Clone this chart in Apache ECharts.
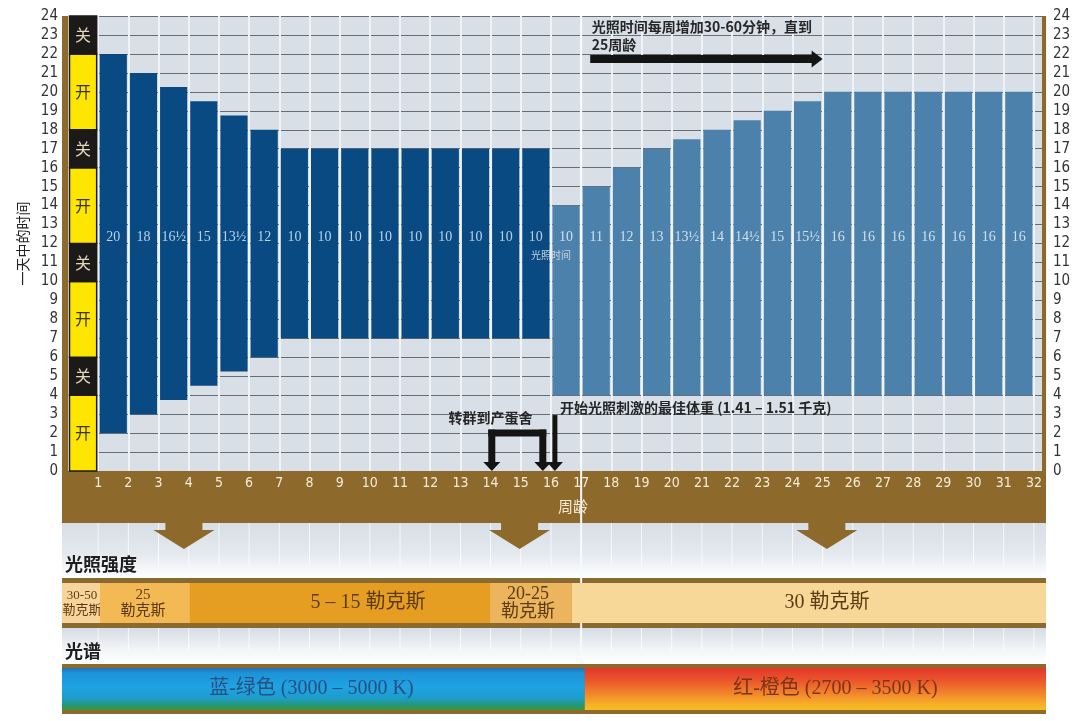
<!DOCTYPE html>
<html><head><meta charset="utf-8">
<script src="https://cdn.jsdelivr.net/npm/echarts@6/dist/echarts.min.js"></script>
<style>html,body{margin:0;padding:0;background:#fff}#c{width:1080px;height:721px}</style>
</head><body><div id="c"></div><script>
// ---------- data ----------
const weeks = [1,2,3,4,5,6,7,8,9,10,11,12,13,14,15,16,17,18,19,20,21,22,23,24,25,26,27,28,29,30,31,32];
const lightOn  = [2,3,3.75,4.5,5.25,6,7,7,7,7,7,7,7,7,7,4,4,4,4,4,4,4,4,4,4,4,4,4,4,4,4];
const lightOff = [22,21,20.25,19.5,18.75,18,17,17,17,17,17,17,17,17,17,14,15,16,17,17.5,18,18.5,19,19.5,20,20,20,20,20,20,20];
const hourLabels = ['20','18','16½','15','13½','12','10','10','10','10','10','10','10','10','10','10','11','12','13','13½','14','14½','15','15½','16','16','16','16','16','16','16'];
const stimulated = [0,0,0,0,0,0,0,0,0,0,0,0,0,0,0,1,1,1,1,1,1,1,1,1,1,1,1,1,1,1,1];
const switchFrom  = [0,4,6,10,12,16,18,22];
const switchTo    = [4,6,10,12,16,18,22,24];
const switchState = ['开','关','开','关','开','关','开','关'];
const intensityFrom = [-0.2,1.06,4.04,13.98,16.69];
const intensityTo   = [1.06,4.04,13.98,16.69,32.4];
const intensityText = ['30-50\n勒克斯','25\n勒克斯','5 – 15 勒克斯','20-25\n勒克斯','30 勒克斯'];
const spectrumFrom = [-0.2,17.12];
const spectrumTo   = [17.12,32.4];
const spectrumText = ['蓝-绿色 (3000 – 5000 K)','红-橙色 (2700 – 3500 K)'];
const bandArrowWeeks = [3.84,14.96,25.14];

// ---------- style / layout ----------
const NARROW = "'Liberation Sans Narrow','DejaVu Sans Condensed',sans-serif";
const CJK = "'Noto Sans CJK SC',sans-serif";
const SERIF = "'Liberation Serif','Noto Sans CJK SC',serif";
const BROWN = '#8d6a2b';
const L = {
  gridLeft: 68, gridRight: 34, gridTop: 16, gridBottom: 250,
  left: 62, width: 984,
  band: {top: 471, h: 52},
  arrow: {top: 523, shaftW: 37, shaftH: 7, headW: 61, tipY: 549},
  zone1: {top: 523, h: 55},
  inten: {outerTop: 578, outerH: 50, top: 583, h: 40,
          colors: ['#f8d49a','#f2b955','#e69e22','#ecb45c','#f8d898'],
          fontSize: [13,15,20,18,20], lineHeight: [15,16,18,18,20], shift: [1,-2,28,-3,18]},
  zone2: {top: 628, h: 36},
  spec: {outerTop: 664, outerH: 50, top: 668, h: 42, shift: [-12,20]},
  colFrom: 0.05, colTo: 0.95, barPad: 0.05, labelHour: 12.35
};

function grad(stops){ return new echarts.graphic.LinearGradient(0,0,0,1,stops.map(c=>({offset:c[0],color:c[1]}))); }

function renderBars(params, api){
  const i = params.dataIndex;
  const w = api.value(0), lo = api.value(1), hi = api.value(2), ph = api.value(3);
  const p1 = api.coord([w + L.barPad, hi]);
  const p2 = api.coord([w + 1 - L.barPad, lo]);
  const t = api.coord([w + 0.5, L.labelHour]);
  return {type:'group', children:[
    {type:'rect', shape:{x:p1[0], y:p1[1], width:p2[0]-p1[0], height:p2[1]-p1[1]},
     style:{fill: ph ? '#4c81ab' : '#0a4a83'}},
    {type:'text', x:t[0], y:t[1], style:{text: hourLabels[i], fill: ph ? '#cfe0ee' : '#b9d2e8',
      fontSize: 14, fontFamily: SERIF, align:'center', verticalAlign:'middle'}}
  ]};
}

function renderSwitch(params, api){
  const i = params.dataIndex;
  const a = api.coord([L.colFrom, api.value(1)]);
  const b = api.coord([L.colTo, api.value(0)]);
  const on = switchState[i] === '开';
  return {type:'group', children:[
    {type:'rect', shape:{x:a[0], y:a[1], width:b[0]-a[0], height:b[1]-a[1]},
     style:{fill: on ? '#ffe600' : '#1c1a18', stroke:'#1c1a18', lineWidth:1.5}},
    {type:'text', x:(a[0]+b[0])/2, y:(a[1]+b[1])/2, style:{text: switchState[i], fill: on ? '#3a3320' : '#e4d8bc',
      fontSize: 16, fontFamily: CJK, align:'center', verticalAlign:'middle'}}
  ]};
}

function renderIntensity(params, api){
  const i = params.dataIndex;
  const x1 = api.coord([api.value(0), 0])[0], x2 = api.coord([api.value(1), 0])[0];
  const I = L.inten;
  return {type:'group', children:[
    {type:'rect', shape:{x:x1, y:I.top, width:x2-x1, height:I.h}, style:{fill: I.colors[i]}},
    {type:'text', x:(x1+x2)/2 + I.shift[i], y:I.top + I.h/2, style:{text: intensityText[i], fill:'#5b3b12',
      fontSize: I.fontSize[i], lineHeight: I.lineHeight[i], fontFamily: SERIF, align:'center', verticalAlign:'middle'}}
  ]};
}

const specFills = [
  [[0,'#2470b6'],[0.12,'#1d93d8'],[0.45,'#1ea3e4'],[0.72,'#1d9dcc'],[0.9,'#27966a'],[1,'#3c9640']],
  [[0,'#e2372b'],[0.3,'#eb562c'],[0.6,'#f2842b'],[0.85,'#f6ad28'],[1,'#f6c021']]
];
const specText = ['#2b4f7e','#7a3418'];
function renderSpectrum(params, api){
  const i = params.dataIndex;
  const x1 = api.coord([api.value(0), 0])[0], x2 = api.coord([api.value(1), 0])[0];
  const S = L.spec;
  return {type:'group', children:[
    {type:'rect', shape:{x:x1, y:S.top, width:x2-x1, height:S.h}, style:{fill: grad(specFills[i])}},
    {type:'text', x:(x1+x2)/2 + S.shift[i], y:S.top + S.h/2, style:{text: spectrumText[i], fill: specText[i],
      fontSize: 20, fontFamily: SERIF, align:'center', verticalAlign:'middle'}}
  ]};
}

function renderBandArrow(params, api){
  const x = api.coord([api.value(0), 0])[0];
  const A = L.arrow;
  const y0 = A.top - 1, y1 = A.top + A.shaftH;
  return {type:'polygon', shape:{points:[
    [x - A.shaftW/2, y0],[x + A.shaftW/2, y0],[x + A.shaftW/2, y1],[x + A.headW/2, y1],
    [x, A.tipY],[x - A.headW/2, y1],[x - A.shaftW/2, y1]]}, style:{fill: BROWN}};
}

function renderZoneLines(params, api){
  const x = api.coord([api.value(0), 0])[0];
  return {type:'group', children:[
    {type:'rect', shape:{x:x-0.5, y:L.zone1.top, width:1, height:L.zone1.h-12}, style:{fill:'rgba(255,255,255,0.75)'}},
    {type:'rect', shape:{x:x-0.5, y:L.zone2.top, width:1, height:L.zone2.h-14}, style:{fill:'rgba(255,255,255,0.75)'}}
  ]};
}

function renderNotes(params, api){
  const c = (w,h) => api.coord([w,h]);
  const ch = [];
  const ink = '#141414';
  const txt = {fill:'#262626', fontSize:14, fontWeight:'bold', fontFamily:CJK, verticalAlign:'middle'};
  // top arrow: +30-60 min per week until week 25
  const a0 = c(17.3, 21.73), a1 = c(25.0, 21.73);
  ch.push({type:'rect', shape:{x:a0[0], y:a0[1]-4, width:a1[0]-a0[0]-10, height:8}, style:{fill:ink}});
  ch.push({type:'polygon', shape:{points:[[a1[0]-11,a1[1]-8.5],[a1[0],a1[1]],[a1[0]-11,a1[1]+8.5]]}, style:{fill:ink}});
  const t1 = c(17.35, 23.42), t2 = c(17.35, 22.5);
  ch.push({type:'text', x:t1[0], y:t1[1], style:Object.assign({text:'光照时间每周增加30-60分钟，直到', align:'left'}, txt)});
  ch.push({type:'text', x:t2[0], y:t2[1], style:Object.assign({text:'25周龄', align:'left'}, txt)});
  // transfer bracket
  const bl = c(14.04, 2.0), br = c(15.73, 2.0), base = c(0, 0)[1];
  const th = 7;
  ch.push({type:'rect', shape:{x:bl[0]-th/2, y:bl[1]-th/2, width:br[0]-bl[0]+th, height:th}, style:{fill:ink}});
  [bl, br].forEach(p => {
    ch.push({type:'rect', shape:{x:p[0]-th/2, y:p[1]-th/2, width:th, height:base-8-(p[1]-th/2)}, style:{fill:ink}});
    ch.push({type:'polygon', shape:{points:[[p[0]-8.5,base-9],[p[0]+8.5,base-9],[p[0],base]]}, style:{fill:ink}});
  });
  const s = c(16.13, 2.95);
  ch.push({type:'rect', shape:{x:s[0]-2.5, y:s[1], width:5, height:base-8-s[1]}, style:{fill:ink}});
  ch.push({type:'polygon', shape:{points:[[s[0]-8,base-9],[s[0]+8,base-9],[s[0],base]]}, style:{fill:ink}});
  const tt = c(14.0, 2.8);
  ch.push({type:'text', x:tt[0], y:tt[1], style:Object.assign({text:'转群到产蛋舍', align:'center'}, txt)});
  const ts = c(16.3, 3.32);
  ch.push({type:'text', x:ts[0], y:ts[1], style:Object.assign({text:'开始光照刺激的最佳体重 (1.41 – 1.51 千克)', align:'left'}, txt)});
  const tl = c(16.0, 11.39);
  ch.push({type:'text', x:tl[0], y:tl[1], style:{text:'光照时间', fill:'#c6d4e2', fontSize:10, fontFamily:CJK, align:'center', verticalAlign:'middle'}});
  return {type:'group', children: ch};
}

function renderDivider(params, api){
  const top = api.coord([api.value(0), 24]);
  return {type:'rect', shape:{x: top[0]-1, y: top[1], width: 2, height: L.spec.outerTop - top[1]}, style:{fill:'#f7fafc'}};
}

const chart = echarts.init(document.getElementById('c'), null, {renderer:'canvas'});
const xCommon = {type:'value', min:0, max:32.4, interval:1, gridIndex:0, position:'bottom'};
chart.setOption({
  animation:false,
  backgroundColor:'#ffffff',
  grid:{left:L.gridLeft, right:L.gridRight, top:L.gridTop, bottom:L.gridBottom, show:true, backgroundColor:'#d8dfe6', borderWidth:0},
  xAxis:[
    Object.assign({}, xCommon, {axisLine:{show:false}, axisTick:{show:false}, axisLabel:{show:false},
      splitLine:{show:true, lineStyle:{color:'#eef3f8', width:2}}}),
    Object.assign({}, xCommon, {z:10, axisLine:{show:false}, axisTick:{show:false}, splitLine:{show:false},
      axisLabel:{show:true, margin:5, color:'#f4ecd8', fontSize:14, fontFamily:NARROW,
        formatter: v => (Number.isInteger(v) && weeks.indexOf(v) >= 0) ? String(weeks[weeks.indexOf(v)]) : ''}})
  ],
  yAxis:[
    {type:'value', min:0, max:24, interval:1, position:'left',
     name:'一天中的时间', nameLocation:'middle', nameGap:38, nameRotate:90,
     nameTextStyle:{color:'#222', fontSize:14, fontFamily:CJK},
     axisLine:{show:false}, axisTick:{show:false},
     axisLabel:{margin:10, color:'#333', fontSize:15, fontFamily:NARROW},
     splitLine:{show:true, lineStyle:{color:'#686d73', width:1}}},
    {type:'value', min:0, max:24, interval:1, position:'right',
     axisLine:{show:false}, axisTick:{show:false}, splitLine:{show:false},
     axisLabel:{margin:7, color:'#333', fontSize:15, fontFamily:NARROW}}
  ],
  graphic:[
    {type:'rect', z:1, shape:{x:L.left, y:L.gridTop, width:6, height:L.band.top-L.gridTop}, style:{fill:BROWN}},
    {type:'rect', z:1, shape:{x:L.left+L.width-4, y:L.gridTop, width:4, height:L.band.top-L.gridTop}, style:{fill:BROWN}},
    {type:'rect', z:1, shape:{x:L.left, y:L.band.top, width:L.width, height:L.band.h}, style:{fill:BROWN}},
    {type:'rect', z:0, shape:{x:L.left, y:L.zone1.top, width:L.width, height:L.zone1.h},
     style:{fill: grad([[0,'#d7dee5'],[0.55,'#e4e9ee'],[1,'#ffffff']])}},
    {type:'rect', z:1, shape:{x:L.left, y:L.inten.outerTop, width:L.width, height:L.inten.outerH}, style:{fill:'#8a6a30'}},
    {type:'rect', z:0, shape:{x:L.left, y:L.zone2.top, width:L.width, height:L.zone2.h},
     style:{fill: grad([[0,'#d5dce3'],[0.6,'#f3f5f7'],[1,'#ffffff']])}},
    {type:'rect', z:1, shape:{x:L.left, y:L.spec.outerTop, width:L.width, height:L.spec.outerH}, style:{fill:'#8e6b2c'}},
    {type:'text', z:12, x:573, y:506, style:{text:'周龄', fill:'#f4ecd8', fontSize:15, fontFamily:CJK, align:'center', verticalAlign:'middle'}},
    {type:'text', z:12, x:65, y:564, style:{text:'光照强度', fill:'#1e1e1e', fontSize:18, fontWeight:'bold', fontFamily:CJK, align:'left', verticalAlign:'middle'}},
    {type:'text', z:12, x:65, y:651, style:{text:'光谱', fill:'#1e1e1e', fontSize:18, fontWeight:'bold', fontFamily:CJK, align:'left', verticalAlign:'middle'}}
  ],
  series:[
    {type:'custom', name:'zoneLines', z:1, renderItem: renderZoneLines, data: weeks.map(w => [w])},
    {type:'custom', name:'光照时间', z:3, renderItem: renderBars, encode:{x:0, y:[1,2]},
     data: lightOn.map((v,i) => [weeks[i], v, lightOff[i], stimulated[i]])},
    {type:'custom', name:'开关', z:3, renderItem: renderSwitch, encode:{y:[0,1]},
     data: switchFrom.map((v,i) => [v, switchTo[i]])},
    {type:'custom', name:'divider', z:2, renderItem: renderDivider, data:[[weeks[16]]]},
    {type:'custom', name:'arrows', z:3, renderItem: renderBandArrow, data: bandArrowWeeks.map(w => [w])},
    {type:'custom', name:'光照强度', z:4, renderItem: renderIntensity, data: intensityFrom.map((v,i) => [v, intensityTo[i]])},
    {type:'custom', name:'光谱', z:4, renderItem: renderSpectrum, data: spectrumFrom.map((v,i) => [v, spectrumTo[i]])},
    {type:'custom', name:'notes', z:5, renderItem: renderNotes, data:[[0,0]]}
  ]
});
</script></body></html>
